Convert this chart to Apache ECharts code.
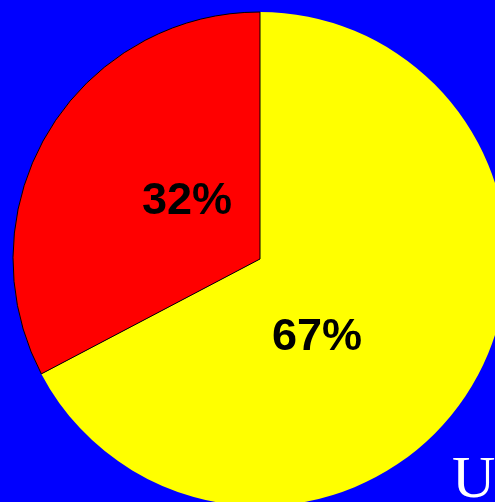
<!DOCTYPE html>
<html>
<head>
<meta charset="utf-8">
<script src="https://cdn.jsdelivr.net/npm/echarts@6/dist/echarts.min.js"></script>
<style>
html,body{margin:0;padding:0;background:#0000ff;}
#chart{width:495px;height:502px;}
</style>
</head>
<body>
<div id="chart"></div>
<script>
const categories = ['Yellow', 'Red'];
const values = [67.3, 32.7];
const sliceColors = ['#ffff00', '#ff0000'];
const cornerText = 'U';

const chart = echarts.init(document.getElementById('chart'), null, {renderer: 'canvas'});
const labelPos = [[317, 338], [187, 202]];
chart.setOption({
  backgroundColor: '#0000ff',
  animation: false,
  title: {
    text: cornerText,
    left: 447,
    top: 446,
    textStyle: {color: '#ffffff', fontFamily: 'Liberation Serif', fontWeight: 'normal', fontSize: 60}
  },
  series: [{
    type: 'pie',
    center: [260, 259],
    radius: [0, 247],
    startAngle: 90,
    clockwise: true,
    silent: true,
    data: categories.map((c, i) => ({
      name: c,
      value: values[i],
      itemStyle: {
        color: sliceColors[i],
        borderColor: i === 1 ? '#000000' : 'rgba(0,0,0,0)',
        borderWidth: i === 1 ? 1 : 0
      }
    })),
    label: {
      show: true,
      position: 'inside',
      formatter: p => Math.floor(p.percent) + '%',
      color: '#000000',
      fontFamily: 'Liberation Sans',
      fontWeight: 'bold',
      fontSize: 45
    },
    labelLine: {show: false},
    labelLayout: function (params) {
      const p = labelPos[params.dataIndex];
      return {x: p[0], y: p[1], align: 'center', verticalAlign: 'middle'};
    }
  }]
});
</script>
</body>
</html>
